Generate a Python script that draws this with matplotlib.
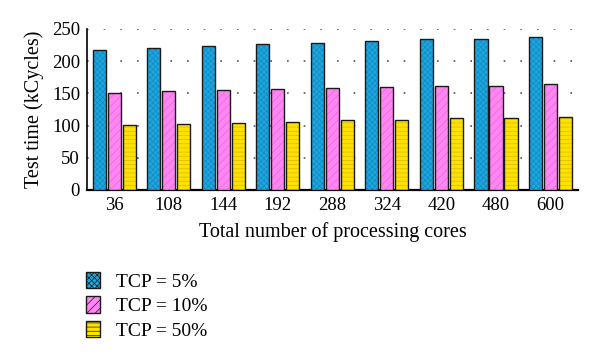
import matplotlib
matplotlib.use("Agg")
import matplotlib.pyplot as plt
import numpy as np
from matplotlib.patches import Patch

categories = ["36", "108", "144", "192", "288", "324", "420", "480", "600"]
tcp5 = [218, 221, 223, 226, 228, 231, 235, 234, 238]
tcp10 = [151, 154, 155, 157, 159, 160, 162, 162, 164]
tcp50 = [101, 103, 104, 106, 108, 109, 111, 112, 114]
series_labels = ["TCP = 5%", "TCP = 10%", "TCP = 50%"]
yticks = [0, 50, 100, 150, 200, 250]

plt.rcParams['font.family'] = ['Liberation Serif', 'DejaVu Serif']
plt.rcParams['hatch.linewidth'] = 0.5

fig = plt.figure(figsize=(6.0, 3.59), dpi=100)
ax = fig.add_axes([0.145, 0.4708, 0.818, 0.4485])

x = np.arange(len(categories))
w = 0.24
step = 0.275
fills = ["#1DA6DE", "#FF85F2", "#FFE100"]
hatch_cols = ["#1488C0", "#E86AD8", "#D9B800"]
hatches = ["xxxxxx", "////", "----"]
data = [tcp5, tcp10, tcp50]

for i, (vals, fc, hc, h) in enumerate(zip(data, fills, hatch_cols, hatches)):
    pos = x + (i - 1) * step
    ax.bar(pos, vals, w, color=fc, edgecolor=hc, hatch=h, linewidth=0, zorder=3)
    ax.bar(pos, vals, w, fill=False, edgecolor="#1a1a1a", linewidth=1.0, zorder=4)

ax.set_xlim(-0.5, 8.5)
ax.set_ylim(0, 250)
ax.set_yticks(yticks)
ax.set_xticks(x)
ax.set_xticklabels(categories)
ax.tick_params(axis='both', length=0, labelsize=13.5, pad=5)
ax.yaxis.grid(True, linestyle=(0, (1, 9)), color="#555555", linewidth=1.2, zorder=0)
for s in ["top", "right"]:
    ax.spines[s].set_visible(False)
ax.spines["left"].set_linewidth(1.2)
ax.spines["bottom"].set_linewidth(1.6)
ax.set_ylabel("Test time (kCycles)", fontsize=14.5, labelpad=6)
ax.set_xlabel("Total number of processing cores", fontsize=14.5, labelpad=6)

handles = [Patch(facecolor=fc, edgecolor="#1a1a1a", hatch=h, linewidth=1.0)
           for fc, h in zip(fills, hatches)]
fig.legend(handles, series_labels, loc="upper left", bbox_to_anchor=(0.143, 0.243),
           frameon=False, fontsize=14, handlelength=0.75, handleheight=0.9,
           handletextpad=0.8, labelspacing=0.3, borderaxespad=0, borderpad=0)

fig.savefig("out.png", dpi=100)
